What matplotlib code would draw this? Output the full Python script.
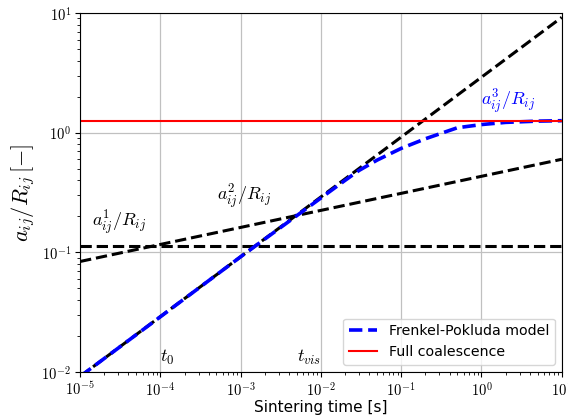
import matplotlib
matplotlib.use('Agg')
import matplotlib.pyplot as plt
from matplotlib.ticker import FuncFormatter
import numpy as np

plt.rcParams['mathtext.fontset'] = 'cm'

# Frenkel-Pokluda curve
t_fp = [1e-5, 1e-4, 1e-3, 1e-2, 2e-2, 3e-2, 5e-2, 0.1, 0.2, 0.5, 1, 2, 5, 10]
a_fp = [0.0092, 0.029, 0.092, 0.285, 0.40, 0.485, 0.59, 0.74, 0.89, 1.10, 1.17, 1.22, 1.25, 1.26]

# asymptotes (straight lines in log-log, end points)
t_ends = [1e-5, 10]
a1 = [0.113, 0.113]
a2 = [0.084, 0.60]
a3 = [0.0092, 9.2]
full = [1.26, 1.26]

fig = plt.figure(figsize=(5.68, 4.2), dpi=100)
ax = fig.add_axes([0.141, 0.114, 0.848, 0.855])

ax.plot(t_ends, a1, 'k--', lw=2.2)
ax.plot(t_ends, a2, 'k--', lw=2.2)
ax.plot(t_ends, a3, 'k--', lw=2.2)
ax.plot(t_fp, a_fp, 'b--', lw=2.6, label='Frenkel-Pokluda model')
ax.plot(t_ends, full, 'r-', lw=1.5, label='Full coalescence')

ax.set_xscale('log')
ax.set_yscale('log')
ax.set_xlim(1e-5, 10)
ax.set_ylim(1e-2, 10)
ax.grid(True, which='major', color='#c0c0c0', lw=0.9)

fmt = FuncFormatter(lambda v, p: r'$10^{%d}$' % int(round(np.log10(v))))
ax.xaxis.set_major_formatter(fmt)
ax.yaxis.set_major_formatter(fmt)

ax.text(1.4e-5, 0.175, r'$a^1_{ij}/R_{ij}$', fontsize=13, va='center')
ax.text(5.1e-4, 0.29, r'$a^2_{ij}/R_{ij}$', fontsize=13, va='center')
ax.text(1.0, 1.8, r'$a^3_{ij}/R_{ij}$', fontsize=13, va='center', color='b')
ax.text(1e-4, 0.0133, r'$t_0$', fontsize=13, va='center')
ax.text(5e-3, 0.0133, r'$t_{vis}$', fontsize=13, va='center')

ax.set_xlabel('Sintering time [s]', fontsize=11, labelpad=1)
ax.set_ylabel(r'$a_{ij}/R_{ij}\,[-]$', fontsize=16, labelpad=3)
ax.tick_params(labelsize=10.5, pad=3)
ax.legend(loc='lower right', fontsize=10.2)

fig.savefig('out.png', dpi=100)
